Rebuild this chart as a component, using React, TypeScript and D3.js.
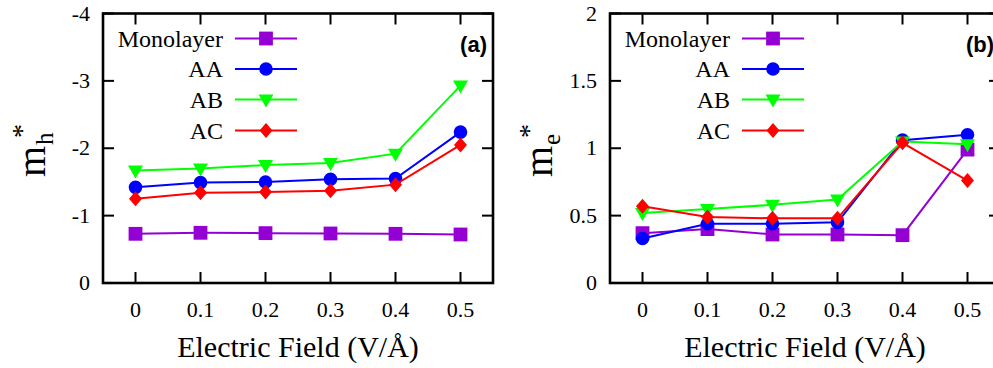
import React from "react";
import * as d3 from "d3";

const fields = [0, 0.1, 0.2, 0.3, 0.4, 0.5];
const fieldLabels = ["0", "0.1", "0.2", "0.3", "0.4", "0.5"];
const seriesNames = ["Monolayer", "AA", "AB", "AC"];

const holeMono = [-0.73, -0.745, -0.74, -0.735, -0.73, -0.72];
const holeAA = [-1.42, -1.49, -1.5, -1.54, -1.55, -2.24];
const holeAB = [-1.67, -1.7, -1.75, -1.78, -1.92, -2.93];
const holeAC = [-1.25, -1.34, -1.35, -1.37, -1.46, -2.05];

const elecMono = [0.37, 0.4, 0.36, 0.36, 0.355, 0.99];
const elecAA = [0.33, 0.44, 0.44, 0.45, 1.06, 1.1];
const elecAB = [0.52, 0.55, 0.58, 0.62, 1.05, 1.03];
const elecAC = [0.57, 0.49, 0.48, 0.48, 1.04, 0.76];

const holeTicks = [0, -1, -2, -3, -4];
const holeTickLabels = ["0", "-1", "-2", "-3", "-4"];
const elecTicks = [0, 0.5, 1, 1.5, 2];
const elecTickLabels = ["0", "0.5", "1", "1.5", "2"];

const colors = ["#9400D3", "#0000FF", "#00FF00", "#FF0000"];
const markerPaths = [
  "M-6.9,-6.9H6.9V6.9H-6.9Z",
  d3.symbol().type(d3.symbolCircle).size(Math.PI * 6.8 * 6.8)() as string,
  "M-7.5,-5L7.5,-5L0,8Z",
  "M0,-7.5L6.5,0L0,7.5L-6.5,0Z",
];

const SERIF = "Liberation Serif, DejaVu Serif, serif";
const serifStyle = { fontFamily: SERIF };

type PanelProps = {
  x0: number;
  yDomain: [number, number];
  ticks: number[];
  tickLabels: string[];
  data: number[][];
  sub: string;
  tag: string;
};

function Panel({ x0, yDomain, ticks, tickLabels, data, sub, tag }: PanelProps) {
  const top = 13.5;
  const bottom = 283;
  const x = d3.scaleLinear().domain([-0.05, 0.55]).range([x0, x0 + 390]);
  const y = d3.scaleLinear().domain(yDomain).range([bottom, top]);
  const line = d3
    .line<number>()
    .x((_, i) => x(fields[i]))
    .y((d) => y(d));
  const tl = 11;
  const left = x(-0.05);
  const right = x(0.55);
  const legX = x0 + 120;
  const legRows = [38.5, 69, 99.5, 130.5];
  return (
    <g>
      {data.map((vals, si) => (
        <g key={si}>
          <path d={line(vals) || ""} fill="none" stroke={colors[si]} strokeWidth={2} />
          {vals.map((v, i) => (
            <path key={i} d={markerPaths[si]} transform={`translate(${x(fields[i])},${y(v)})`} fill={colors[si]} />
          ))}
        </g>
      ))}
      {seriesNames.map((n, si) => (
        <g key={n}>
          <text x={legX} y={legRows[si] + 8} textAnchor="end" style={serifStyle} fontSize={24} fill="#000">
            {n}
          </text>
          <line x1={legX + 12} x2={legX + 74} y1={legRows[si]} y2={legRows[si]} stroke={colors[si]} strokeWidth={2} />
          <path d={markerPaths[si]} transform={`translate(${legX + 43},${legRows[si]})`} fill={colors[si]} />
        </g>
      ))}
      {ticks.map((t, i) => (
        <g key={"y" + i}>
          <line x1={left} x2={left + tl} y1={y(t)} y2={y(t)} stroke="#000" strokeWidth={2} />
          <line x1={right} x2={right - tl} y1={y(t)} y2={y(t)} stroke="#000" strokeWidth={2} />
          <text x={left - 13} y={y(t) + 7} textAnchor="end" style={serifStyle} fontSize={22} fill="#000">
            {tickLabels[i]}
          </text>
        </g>
      ))}
      {fields.map((f, i) => (
        <g key={"x" + i}>
          <line x1={x(f)} x2={x(f)} y1={bottom} y2={bottom - tl} stroke="#000" strokeWidth={2} />
          <line x1={x(f)} x2={x(f)} y1={top} y2={top + tl} stroke="#000" strokeWidth={2} />
          <text x={x(f)} y={317} textAnchor="middle" style={serifStyle} fontSize={22} fill="#000">
            {fieldLabels[i]}
          </text>
        </g>
      ))}
      <rect x={left} y={top} width={right - left} height={bottom - top} fill="none" stroke="#000" strokeWidth={2.6} />
      <text x={x0 + 384} y={52} textAnchor="end" style={{ fontFamily: "Liberation Sans, Arial, sans-serif" }} fontWeight="bold" fontSize={22} fill="#000">
        {tag}
      </text>
      <text x={(left + right) / 2} y={357} textAnchor="middle" style={serifStyle} fontSize={30} fill="#000">
        Electric Field (V/Å)
      </text>
      <text transform={`translate(${x0 - 58},177) rotate(-90)`} style={serifStyle} fontSize={40} fill="#000">
        m
      </text>
      <text transform={`translate(${x0 - 50},145) rotate(-90)`} style={serifStyle} fontSize={25} fill="#000">
        {sub}
      </text>
      <text transform={`translate(${x0 - 72},138) rotate(-90)`} style={serifStyle} fontSize={28} fill="#000">
        *
      </text>
    </g>
  );
}

export default function App() {
  return (
    <svg width={993} height={368} style={{ position: "absolute", left: 0, top: 0, background: "#fff" }}>
      <rect width={993} height={368} fill="#fff" />
      <Panel
        x0={103}
        yDomain={[0, -4]}
        ticks={holeTicks}
        tickLabels={holeTickLabels}
        data={[holeMono, holeAA, holeAB, holeAC]}
        sub="h"
        tag="(a)"
      />
      <Panel
        x0={610}
        yDomain={[0, 2]}
        ticks={elecTicks}
        tickLabels={elecTickLabels}
        data={[elecMono, elecAA, elecAB, elecAC]}
        sub="e"
        tag="(b)"
      />
    </svg>
  );
}
